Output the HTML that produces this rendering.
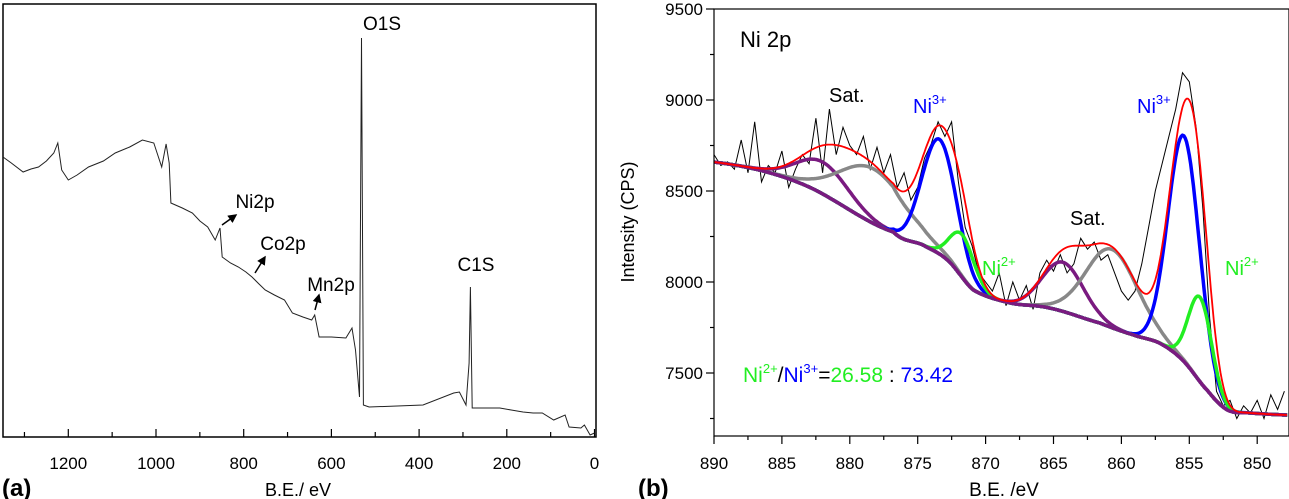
<!DOCTYPE html>
<html><head><meta charset="utf-8"><style>
body{margin:0;background:#fff;}
svg{display:block;font-family:"Liberation Sans",Arial,sans-serif;}
</style></head><body>
<svg id="fig" width="1289" height="499" viewBox="0 0 1289 499" xmlns="http://www.w3.org/2000/svg">
<g id="pa"></g>
<g id="pb"></g>
</svg>
<script>
// ---------- Panel (a) survey data ----------
const surveyBE = [1349,1330,1303,1285,1268,1250,1233,1224,1215,1200,1180,1154,1120,1093,1060,1031,1005,987,977,970,966,940,917,900,882,865,854,849,830,812,795,781,765,751,730,707,689,665,645,638,628,600,567,553,545,536,531.4,527,514,450,391,321,308,293,286,283,279,250,216,190,163,140,119,93,67,58,31,23,10,0];
const surveyCounts = [280,274,265,268,270,276,284,294,267,257,262,270,276,284,290,297,294,270,293,274,234,229,224,216,210,197,209,180,174,170,165,160,153,147,142,137,124,120,117,122,100,100,99,109,87,40,399,32,30,31,32,44,45,32,74,150,29,29,29,27,25,24,24,17,22,10,9,12,2,4];
const surveyTicks = [1200,1000,800,600,400,200,0];
// ---------- Panel (b) Ni 2p data ----------
const bgBE = [890,883.7,876.8,874.6,872.8,870.9,868.2,865.3,861.6,859.1,857.2,855.5,853.7,852.2,850.5,847.7];
const bgCPS = [8659,8544,8275,8203,8120,7956,7885,7857,7775,7709,7665,7571,7407,7297,7280,7269];
const peakNames = ["sat1","sat2","ni3a","ni2a","sat3","sat4","ni3b","ni2b"];
const peakCenters = [882.0,878.3,873.4,871.7,864.3,860.7,855.4,854.2];
const peakHeights = [175,300,630,235,270,430,1240,465];
const peakSigmas = [1.9,2.4,1.25,0.9,1.5,1.9,1.15,0.85];
const peakColors = ["#7a1a80","#888888","#0000ff","#22ee22","#7a1a80","#888888","#0000ff","#22ee22"];
const rawBE = [890,889.5,889,888.5,888,887.5,887,886.5,886,885.5,885,884.5,884,883.5,883,882.5,882,881.5,881,880.5,880,879.5,879,878.5,878,877.5,877,876.5,876,875.5,875,874.5,874,873.5,873,872.5,872,871.5,871,870.5,870,869.5,869,868.5,868,867.5,867,866.5,866,865.5,865,864.5,864,863.5,863,862.5,862,861.5,861,860.5,860,859.5,859,858.5,858,857.5,857,856.5,856,855.5,855,854.5,854,853.5,853,852.5,852,851.5,851,850.5,850,849.5,849,848.5,848];
const rawCPS = [8700,8640,8660,8620,8780,8600,8880,8550,8640,8600,8720,8520,8620,8700,8650,8900,8600,8950,8700,8850,8750,8700,8800,8620,8740,8600,8700,8520,8600,8450,8520,8680,8760,8880,8800,8880,8550,8300,8200,8050,8000,7950,8050,7870,8000,7900,7980,7850,8050,8120,8060,8150,8050,8100,8240,8180,8220,8120,8150,8050,7950,7900,7950,8100,8300,8500,8650,8800,8950,9150,9100,8850,8400,7800,7400,7320,7350,7250,7320,7280,7350,7250,7380,7300,7400];
const yTicksB = [9500,9000,8500,8000,7500];
const xTicksB = [890,885,880,875,870,865,860,855,850];

const NS="http://www.w3.org/2000/svg";
function mk(parent,tag,attrs,text){const e=document.createElementNS(NS,tag);for(const k in attrs)e.setAttribute(k,attrs[k]);if(text!==undefined)e.textContent=text;parent.appendChild(e);return e;}

// ===== Panel (a) =====
const pa=document.getElementById('pa');
const ax=be=>594.5-(be)*0.4385;
const ay=c=>437-c;
let f=mk(pa,'rect',{x:3,y:4,width:593,height:433,fill:'none',stroke:'#000','stroke-width':1.5});


for(let v=1300;v>=0;v-=100){
  const t=mk(pa,'line',{x1:ax(v),x2:ax(v),y1:437,y2:surveyTicks.includes(v)?429:432,stroke:'#000','stroke-width':1.2});
  
  
}
surveyTicks.forEach(v=>{
  const t=mk(pa,'text',{x:ax(v),y:469,'font-size':17,'text-anchor':'middle'},String(v));
  
  
});
let d='';surveyBE.forEach((b,i)=>{d+=(i?'L':'M')+ax(b).toFixed(1)+' '+ay(surveyCounts[i]).toFixed(1);});
let sl=mk(pa,'path',{d:d,fill:'none',stroke:'#222','stroke-width':1});


const aLabels=[["O1S",382,30],["C1S",476,271],["Ni2p",255,208],["Co2p",283,250],["Mn2p",331,291]];
aLabels.forEach(l=>{
  const t=mk(pa,'text',{x:l[1],y:l[2],'font-size':19,'text-anchor':'middle'},l[0]);
  
  
});
mk(pa,'defs',{}).innerHTML='<marker id="ah" markerWidth="6" markerHeight="6" refX="5" refY="3" orient="auto"><path d="M0,0 L6,3 L0,6 z" fill="#000"/></marker>';
[[222,225,236,215],[255,273,265,257],[315,310,319,295]].forEach(a=>{
  const l=mk(pa,'line',{x1:a[0],y1:a[1],x2:a[2],y2:a[3],stroke:'#000','stroke-width':1.5,'marker-end':'url(#ah)'});
  
  
});
let pl=mk(pa,'text',{x:2,y:496,'font-size':24,'font-weight':'bold'},'(a)');


let xt=mk(pa,'text',{x:298,y:496,'font-size':18,'text-anchor':'middle'},'B.E./ eV');



// ===== Panel (b) =====
const pb=document.getElementById('pb');
const bx=be=>714+(890-be)*13.58;
const by=c=>9+(9500-c)*0.182;
function bg(e){
  const n=bgBE.length;
  for(let i=0;i<n-1;i++){
    if(e<=bgBE[i]&&e>=bgBE[i+1]){
      const t=(bgBE[i]-e)/(bgBE[i]-bgBE[i+1]);
      const p0=bgCPS[Math.max(i-1,0)],p1=bgCPS[i],p2=bgCPS[i+1],p3=bgCPS[Math.min(i+2,n-1)];
      return 0.5*((2*p1)+(-p0+p2)*t+(2*p0-5*p1+4*p2-p3)*t*t+(-p0+3*p1-3*p2+p3)*t*t*t);
    }
  }
  return bgCPS[n-1];
}
function g(k,e){return peakHeights[k]*Math.exp(-((e-peakCenters[k])**2)/(2*peakSigmas[k]**2));}
const defs=mk(pb,'defs',{});defs.innerHTML='<clipPath id="cb"><rect x="714" y="9" width="575" height="427"/></clipPath>';
const plot=mk(pb,'g',{'clip-path':'url(#cb)'});
function curve(fn,color,w,name){
  let dd='';for(let e=890;e>=847.7;e-=0.1){dd+=(dd?'L':'M')+bx(e).toFixed(1)+' '+by(fn(e)).toFixed(1);}
  const p=mk(plot,'path',{d:dd,fill:'none',stroke:color,'stroke-width':w,'stroke-linejoin':'round'});
  
  
}
let rd='';rawBE.forEach((b,i)=>{rd+=(i?'L':'M')+bx(b).toFixed(1)+' '+by(rawCPS[i]).toFixed(1);});
let rp=mk(plot,'path',{d:rd,fill:'none',stroke:'#000','stroke-width':1});


peakNames.forEach((n,k)=>{
  curve(e=>bg(e)+g(k,e),peakColors[k],3.5,'component-'+n);
});
curve(e=>bg(e),'#7a1a80',3.5,'background-line');
curve(e=>{let s=bg(e);for(let k=0;k<peakNames.length;k++)s+=g(k,e);return s;},'#ff0000',1.8,'fit-envelope-line');
let fr=mk(pb,'rect',{x:714,y:9,width:575,height:427,fill:'none',stroke:'#000','stroke-width':1.2});


for(let v=9500;v>=7250;v-=250){
  const t=mk(pb,'line',{x1:714,x2:yTicksB.includes(v)?706:710,y1:by(v),y2:by(v),stroke:'#000','stroke-width':1.2});
  
  
}
yTicksB.forEach(v=>{
  const t=mk(pb,'text',{x:703,y:by(v)+6,'font-size':17,'text-anchor':'end'},String(v));
  
  
});
for(let v=890;v>=847.7;v-=2.5){
  const t=mk(pb,'line',{x1:bx(v),x2:bx(v),y1:436,y2:xTicksB.includes(v)?444:440,stroke:'#000','stroke-width':1.2});
  
  
}
xTicksB.forEach(v=>{
  const t=mk(pb,'text',{x:bx(v),y:469,'font-size':17,'text-anchor':'middle'},String(v));
  
  
});
let yt=mk(pb,'text',{x:0,y:0,'font-size':18,'text-anchor':'middle',transform:'translate(634,222) rotate(-90)'},'Intensity (CPS)');


let bt=mk(pb,'text',{x:1004,y:496,'font-size':19,'text-anchor':'middle'},'B.E. /eV');


let bl=mk(pb,'text',{x:638,y:496,'font-size':24,'font-weight':'bold'},'(b)');


let tt=mk(pb,'text',{x:740,y:47,'font-size':22},'Ni 2p');


const bLabels=[["Sat.",null,829,102,'#000'],["Ni","3+",913,113,'#0000ff'],["Ni","2+",982,275,'#22ee22'],["Sat.",null,1070,225,'#000'],["Ni","3+",1137,113,'#0000ff'],["Ni","2+",1225,275,'#22ee22']];
bLabels.forEach(l=>{
  const t=mk(pb,'text',{x:l[2],y:l[3],'font-size':20,fill:l[4]});
  t.innerHTML=l[0]+(l[1]?'<tspan dy="-9" font-size="13">'+l[1]+'</tspan>':'');
  
  
});
let rt=mk(pb,'text',{x:743,y:382,'font-size':21});
rt.innerHTML='<tspan fill="#22ee22">Ni</tspan><tspan fill="#22ee22" dy="-9" font-size="13">2+</tspan><tspan dy="9" fill="#000">/</tspan><tspan fill="#0000ff">Ni</tspan><tspan fill="#0000ff" dy="-9" font-size="13">3+</tspan><tspan dy="9" fill="#000">=</tspan><tspan fill="#22ee22">26.58</tspan><tspan fill="#000"> : </tspan><tspan fill="#0000ff">73.42</tspan>';


</script>
</body></html>
